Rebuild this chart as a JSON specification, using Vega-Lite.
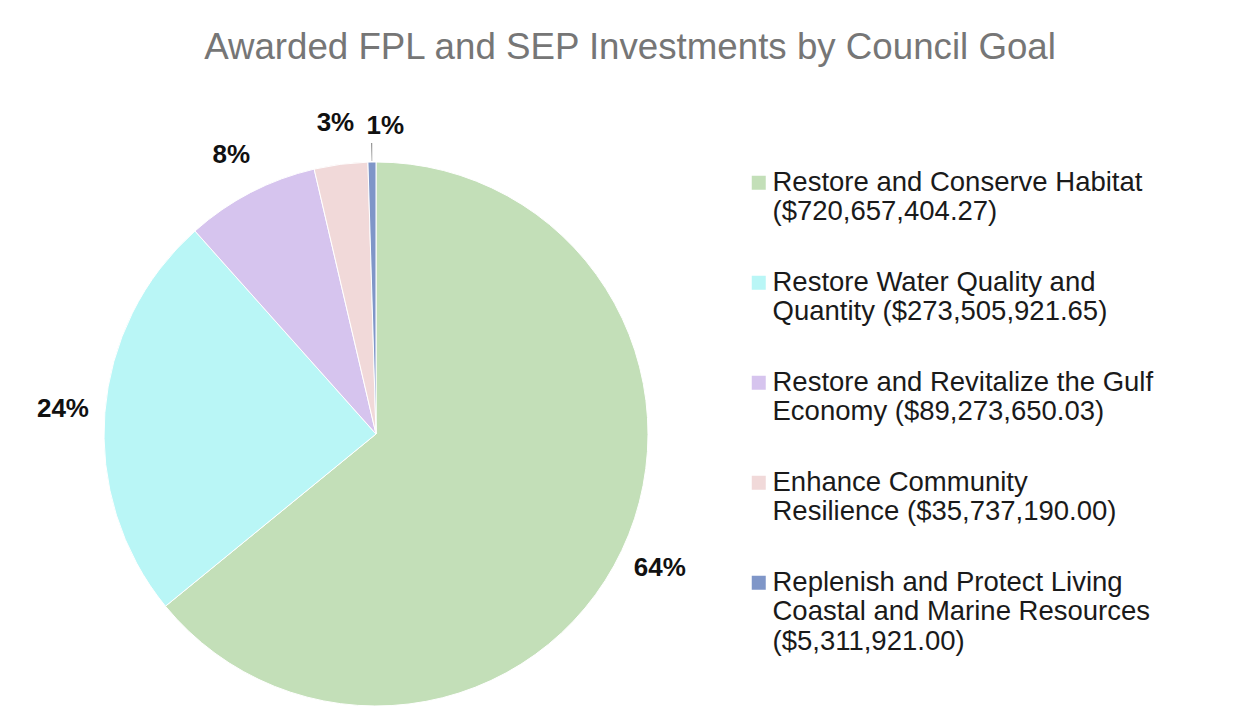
{
  "$schema": "https://vega.github.io/schema/vega-lite/v6.json",
  "width": 752,
  "height": 576,
  "padding": {"left": 0, "top": 30, "right": 0, "bottom": 0},
  "background": "white",
  "title": {
    "text": "Awarded FPL and SEP Investments by Council Goal",
    "fontSize": 36.7,
    "font": "Liberation Sans",
    "fontWeight": "normal",
    "color": "#767676",
    "anchor": "middle",
    "frame": "group",
    "dx": 254,
    "offset": 40
  },
  "config": {"view": {"stroke": null}},
  "data": {
    "values": [
      {"goal": "Restore and Conserve Habitat\n($720,657,404.27)", "value": 720657404.27, "pct": "64%"},
      {"goal": "Restore Water Quality and\nQuantity ($273,505,921.65)", "value": 273505921.65, "pct": "24%"},
      {"goal": "Restore and Revitalize the Gulf\nEconomy ($89,273,650.03)", "value": 89273650.03, "pct": "8%"},
      {"goal": "Enhance Community\nResilience ($35,737,190.00)", "value": 35737190.00, "pct": "3%"},
      {"goal": "Replenish and Protect Living\nCoastal and Marine Resources\n($5,311,921.00)", "value": 5311921.00, "pct": "1%"}
    ]
  },
  "encoding": {
    "theta": {"field": "value", "type": "quantitative", "stack": true},
    "order": {"field": "value", "type": "quantitative", "sort": "descending"}
  },
  "layer": [
    {
      "mark": {"type": "arc", "outerRadius": 272, "stroke": "white", "strokeWidth": 1},
      "encoding": {
        "color": {
          "field": "goal",
          "type": "nominal",
          "sort": null,
          "scale": {
            "domain": [
              "Restore and Conserve Habitat\n($720,657,404.27)",
              "Restore Water Quality and\nQuantity ($273,505,921.65)",
              "Restore and Revitalize the Gulf\nEconomy ($89,273,650.03)",
              "Enhance Community\nResilience ($35,737,190.00)",
              "Replenish and Protect Living\nCoastal and Marine Resources\n($5,311,921.00)"
            ],
            "range": ["#c3dfb8", "#b9f6f6", "#d6c4ee", "#f1d9d9", "#7f96c8"]
          },
          "legend": {
            "title": null,
            "orient": "none",
            "legendX": 745,
            "legendY": 23,
            "symbolType": "square",
            "symbolSize": 196,
            "symbolStrokeWidth": 0,
            "labelFont": "Liberation Sans",
            "labelFontSize": 27.5,
            "labelColor": "#1a1a1a",
            "labelLimit": 600,
            "labelOffset": 0,
            "rowPadding": 42,
            "labelExpr": "split(datum.label, '\\n')"
          }
        }
      }
    },
    {
      "mark": {"type": "arc", "innerRadius": 273, "outerRadius": 291, "padAngle": 0.019},
      "encoding": {
        "fill": {
          "condition": {"test": "datum.pct == '1%'", "value": "#808080"},
          "value": "transparent"
        }
      }
    },
    {
      "mark": {"type": "text", "radius": 314, "fontSize": 26, "fontWeight": "bold", "font": "Liberation Sans", "color": "#111111"},
      "encoding": {
        "text": {"condition": {"test": "datum.pct == '1%'", "value": ""}, "field": "pct", "type": "nominal"}
      }
    },
    {
      "mark": {"type": "text", "radius": 312, "dx": 14, "dy": 4, "fontSize": 26, "fontWeight": "bold", "font": "Liberation Sans", "color": "#111111"},
      "encoding": {
        "text": {"condition": {"test": "datum.pct != '1%'", "value": ""}, "field": "pct", "type": "nominal"}
      }
    }
  ]
}
